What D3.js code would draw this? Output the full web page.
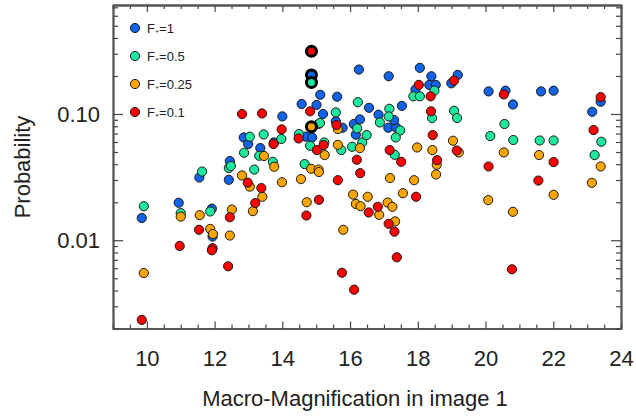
<!DOCTYPE html>
<html>
<head>
<meta charset="utf-8">
<script src="https://cdn.jsdelivr.net/npm/d3@7"></script>
<style>
  body { margin: 0; background: #fff; }
  text { font-family: "Liberation Sans", Arial, Helvetica, sans-serif; fill: #222; }
</style>
</head>
<body>
<svg class="chart"></svg>
<script>
let width = 636,
  height = 418;

// [magnification, probability], one list per F*
let fstar1 = [
  [9.85, 0.015], [10.94, 0.0198], [11.55, 0.0314], [11.94, 0.0107], [11.92, 0.0178],
  [12.45, 0.0424], [12.42, 0.0301], [12.86, 0.0652], [12.99, 0.0578], [13.35, 0.0537],
  [13.75, 0.0595], [14.0, 0.0957], [14.57, 0.12], [14.69, 0.0661], [14.88, 0.0652],
  [15.01, 0.118], [15.12, 0.142], [15.2, 0.1], [15.62, 0.137], [15.58, 0.0874],
  [15.78, 0.0778], [16.11, 0.0833], [16.29, 0.0906], [16.17, 0.0685], [16.26, 0.225],
  [16.56, 0.112], [16.84, 0.0987], [17.13, 0.0778], [17.36, 0.0783], [17.3, 0.0896],
  [17.14, 0.199], [17.53, 0.116], [18.06, 0.232], [18.4, 0.199], [18.34, 0.17],
  [18.53, 0.17], [17.93, 0.156], [18.99, 0.175], [19.18, 0.204], [20.09, 0.151],
  [20.59, 0.153], [20.81, 0.119], [21.64, 0.151], [22.01, 0.153], [23.4, 0.125],
  [23.15, 0.104]
];
let fstar05 = [
  [9.91, 0.0186], [11.0, 0.0164], [11.63, 0.035], [11.87, 0.0169], [12.42, 0.0373],
  [12.48, 0.0387], [12.87, 0.0493], [13.04, 0.0661], [13.17, 0.0363], [13.32, 0.0467],
  [13.45, 0.0689], [13.72, 0.0418], [13.97, 0.0634], [14.49, 0.0694], [14.66, 0.0401],
  [14.82, 0.056], [15.07, 0.0833], [15.11, 0.0849], [15.24, 0.0595], [15.58, 0.103],
  [15.74, 0.0518], [16.06, 0.055], [16.21, 0.0769], [16.23, 0.124], [16.36, 0.0595],
  [16.49, 0.0681], [16.88, 0.0857], [17.16, 0.11], [17.14, 0.0957], [17.32, 0.0475],
  [17.48, 0.0741], [17.35, 0.0652], [17.87, 0.138], [18.06, 0.138], [18.49, 0.153],
  [18.42, 0.0929], [19.07, 0.106], [19.16, 0.0929], [20.56, 0.0833], [20.14, 0.0669],
  [20.82, 0.0622], [21.6, 0.0617], [22.01, 0.0617], [23.42, 0.0603], [23.22, 0.0473]
];
let fstar025 = [
  [9.91, 0.0055], [11.0, 0.0154], [11.56, 0.0158], [11.87, 0.0123], [11.95, 0.0112],
  [12.45, 0.0109], [12.51, 0.0175], [12.81, 0.0326], [13.04, 0.0266], [13.13, 0.017],
  [13.41, 0.0221], [13.46, 0.0465], [13.76, 0.0382], [13.99, 0.0288], [14.55, 0.0305],
  [14.72, 0.02], [14.85, 0.0368], [15.07, 0.0363], [15.08, 0.0347], [15.25, 0.0473],
  [15.64, 0.076], [15.64, 0.057], [15.8, 0.0121], [16.09, 0.023], [16.17, 0.0194],
  [16.31, 0.0186], [16.29, 0.0537], [16.52, 0.0221], [16.86, 0.0159], [17.11, 0.0199],
  [17.25, 0.0184], [17.18, 0.0311], [17.33, 0.0141], [17.56, 0.0236], [17.89, 0.0299],
  [17.98, 0.0543], [18.43, 0.0518], [18.56, 0.0396], [18.54, 0.0332], [19.04, 0.0614],
  [19.21, 0.0496], [20.08, 0.0208], [20.54, 0.0496], [20.81, 0.0168], [21.58, 0.0473],
  [22.01, 0.0229], [23.4, 0.0384], [23.14, 0.0285]
];
let fstar01 = [
  [9.85, 0.00234], [10.97, 0.00902], [11.54, 0.0121], [11.94, 0.00865], [11.92, 0.00833],
  [12.4, 0.00622], [12.45, 0.0152], [12.81, 0.1], [12.98, 0.0286], [13.2, 0.0197],
  [13.38, 0.0259], [13.4, 0.101], [13.74, 0.0578], [13.98, 0.0755], [14.48, 0.064],
  [14.71, 0.0157], [14.82, 0.105], [15.02, 0.0518], [15.08, 0.0209], [15.22, 0.0567],
  [15.6, 0.0818], [15.64, 0.0299], [15.76, 0.00553], [16.12, 0.00406], [16.2, 0.0434],
  [16.3, 0.034], [16.55, 0.0166], [16.82, 0.0184], [17.14, 0.0135], [17.17, 0.0518],
  [17.31, 0.0117], [17.38, 0.00733], [17.51, 0.0418], [17.95, 0.0221], [18.03, 0.17],
  [18.38, 0.138], [18.39, 0.105], [18.44, 0.0681], [18.57, 0.0431], [19.07, 0.184],
  [19.15, 0.0514], [20.09, 0.0384], [20.54, 0.143], [20.78, 0.00589], [21.56, 0.0297],
  [22.01, 0.0416], [23.19, 0.0746], [23.4, 0.136]
];

// the highlighted system (thick black rim), one value per F*
let heroMag = 14.86;
let heroProb = [0.204, 0.178, 0.0793, 0.314];

let seriesNames = ["F*=1", "F*=0.5", "F*=0.25", "F*=0.1"];
let seriesColors = ["#1062e6", "#1ee89c", "#ffa500", "#ff0000"];
let seriesData = [fstar1, fstar05, fstar025, fstar01];

let xMajor = [10, 12, 14, 16, 18, 20, 22, 24];
let yMajor = [0.01, 0.1];

let pLeft = 113, pRight = 621, pTop = 5, pBottom = 328.5;

let x = d3.scaleLinear().domain([9, 24]).range([pLeft, pRight]);
let y = d3.scaleLog().domain([0.002, 0.73]).range([pBottom, pTop]);

let svg = d3.select(".chart").attr("width", width).attr("height", height);

let xMinor = d3.range(9, 24.01, 0.5).filter((v) => xMajor.indexOf(v) < 0);
let yMinor = y.ticks().filter((v) => yMajor.indexOf(+v.toPrecision(3)) < 0);

function styleAxis(g) {
  g.select(".domain").attr("stroke", "#555").attr("stroke-width", 1.8);
  g.selectAll(".tick line").attr("stroke", "#444").attr("stroke-width", 1.2);
  g.selectAll("text").attr("font-size", 22).attr("fill", "#222")
    .attr("font-family", '"Liberation Sans", Arial, sans-serif');
}

// bottom + top axes
svg.append("g").attr("transform", `translate(0,${pBottom})`)
  .call(d3.axisBottom(x).tickValues(xMinor).tickSize(-4).tickFormat(""))
  .call(styleAxis);
svg.append("g").attr("transform", `translate(0,${pBottom})`)
  .call(d3.axisBottom(x).tickValues(xMajor).tickSize(-7).tickSizeOuter(0).tickPadding(22).tickFormat(d3.format("d")))
  .call(styleAxis);
svg.append("g").attr("transform", `translate(0,${pTop})`)
  .call(d3.axisTop(x).tickValues(xMinor).tickSize(-4).tickFormat(""))
  .call(styleAxis);
svg.append("g").attr("transform", `translate(0,${pTop})`)
  .call(d3.axisTop(x).tickValues(xMajor).tickSize(-7).tickSizeOuter(0).tickFormat(""))
  .call(styleAxis);

// left + right axes
svg.append("g").attr("transform", `translate(${pLeft},0)`)
  .call(d3.axisLeft(y).tickValues(yMinor).tickSize(-5).tickSizeOuter(0).tickFormat(""))
  .call(styleAxis);
svg.append("g").attr("transform", `translate(${pLeft},0)`)
  .call(d3.axisLeft(y).tickValues(yMajor).tickSize(-10).tickSizeOuter(0).tickPadding(13).tickFormat(d3.format(".2f")))
  .call(styleAxis);
svg.append("g").attr("transform", `translate(${pRight},0)`)
  .call(d3.axisRight(y).tickValues(yMinor).tickSize(-5).tickSizeOuter(0).tickFormat(""))
  .call(styleAxis);
svg.append("g").attr("transform", `translate(${pRight},0)`)
  .call(d3.axisRight(y).tickValues(yMajor).tickSize(-10).tickSizeOuter(0).tickFormat(""))
  .call(styleAxis);

// axis titles
svg.append("text")
  .attr("x", 355).attr("y", 406)
  .attr("text-anchor", "middle").attr("font-size", 22)
  .text("Macro-Magnification in image 1");
svg.append("text")
  .attr("transform", "translate(30,167) rotate(-90)")
  .attr("text-anchor", "middle").attr("font-size", 22)
  .text("Probability");

// the points, blue first so red sits on top
seriesData.forEach(function (pts, i) {
  svg.append("g")
    .selectAll("circle")
    .data(pts)
    .enter()
    .append("circle")
    .attr("cx", (d) => x(d[0]))
    .attr("cy", (d) => y(d[1]))
    .attr("r", 4.6)
    .attr("fill", seriesColors[i])
    .attr("stroke", "#1a1a1a")
    .attr("stroke-width", 1);
});

svg.append("g")
  .selectAll("circle")
  .data(heroProb)
  .enter()
  .append("circle")
  .attr("cx", x(heroMag))
  .attr("cy", (d) => y(d))
  .attr("r", 5)
  .attr("fill", (d, i) => seriesColors[i])
  .attr("stroke", "#000")
  .attr("stroke-width", 3);

// legend
let legend = svg.append("g").attr("transform", "translate(135,28)");
seriesNames.forEach(function (name, i) {
  let row = legend.append("g").attr("transform", `translate(0,${i * 28})`);
  row.append("circle").attr("r", 4.6)
    .attr("fill", seriesColors[i]).attr("stroke", "#1a1a1a").attr("stroke-width", 1);
  let t = row.append("text").attr("x", 12).attr("y", 4.5).attr("font-size", 13);
  t.append("tspan").text("F");
  t.append("tspan").attr("font-size", 8).attr("dy", 2.5).attr("dx", 0.5).text("*");
  t.append("tspan").attr("dy", -2.5).attr("dx", 0.5).text(name.slice(2));
});
</script>
</body>
</html>
